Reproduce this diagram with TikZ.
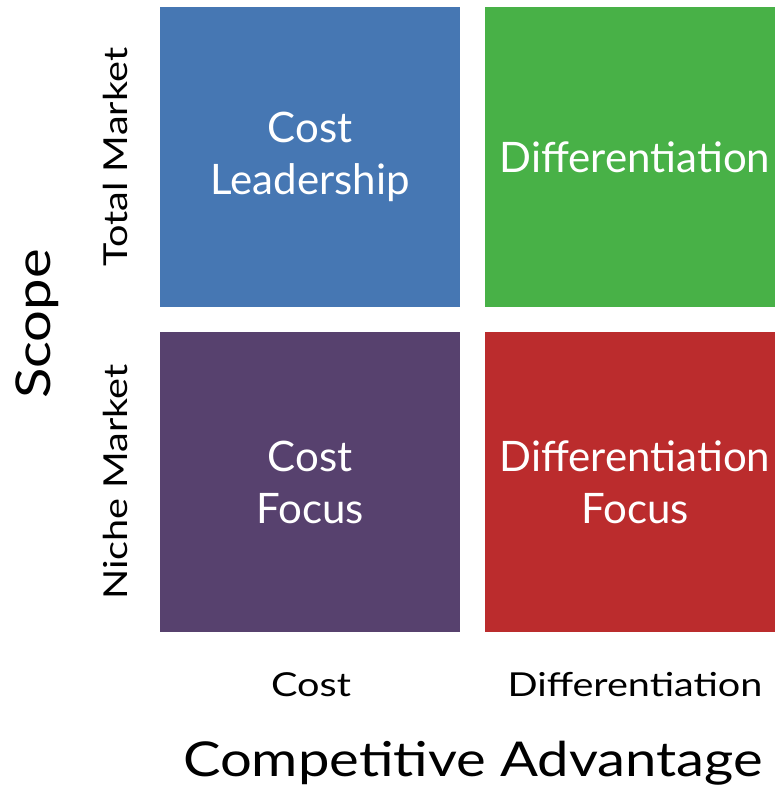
\documentclass[tikz,border=0pt]{standalone}
\usepackage{fontspec}
\setmainfont{Lato}
\usepackage{tikz}

\definecolor{costblue}{RGB}{70,119,179}
\definecolor{diffgreen}{RGB}{72,177,71}
\definecolor{focuspurple}{RGB}{87,65,110}
\definecolor{focusred}{RGB}{187,44,45}

\begin{document}
\begin{tikzpicture}[x=1pt,y=1pt,node distance=325pt,
        quad/.style={rectangle,minimum size=300pt,inner sep=0pt,text=white,align=center,
            font=\fontsize{42}{52}\selectfont},
        axislbl/.style={inner sep=0pt,xscale=1.2,font=\fontsize{33}{40}\selectfont},
        axistitle/.style={inner sep=0pt,xscale=1.17,font=\fontsize{48}{58}\selectfont}]
        \useasboundingbox (0,0) rectangle (775,788);

        \node[quad,fill=costblue] (cl) at (310,631) {Cost\\Leadership};
        \node[quad,fill=diffgreen] (dg) [right of=cl] {Differentiation};
        \node[quad,fill=focuspurple] (cf) [below of=cl] {Cost\\Focus};
        \node[quad,fill=focusred] (df) [right of=cf] {Differentiation\\Focus};

        % scope axis
        \node[rotate=90,axislbl,anchor=base] (total) at (127,631) {Total Market};
        \node[rotate=90,axislbl,anchor=base] (niche) at (127,306) {Niche Market};
        \node[rotate=90,axistitle,anchor=base] (scope) at (50,464) {Scope};

        % advantage axis
        \node[axislbl,anchor=base] (cost) at (311,91) {Cost};
        \node[axislbl,anchor=base] (diff) at (635,91) {Differentiation};
        \node[axistitle,anchor=base] (adv) at (473,11) {Competitive Advantage};
    \end{tikzpicture}
\end{document}
